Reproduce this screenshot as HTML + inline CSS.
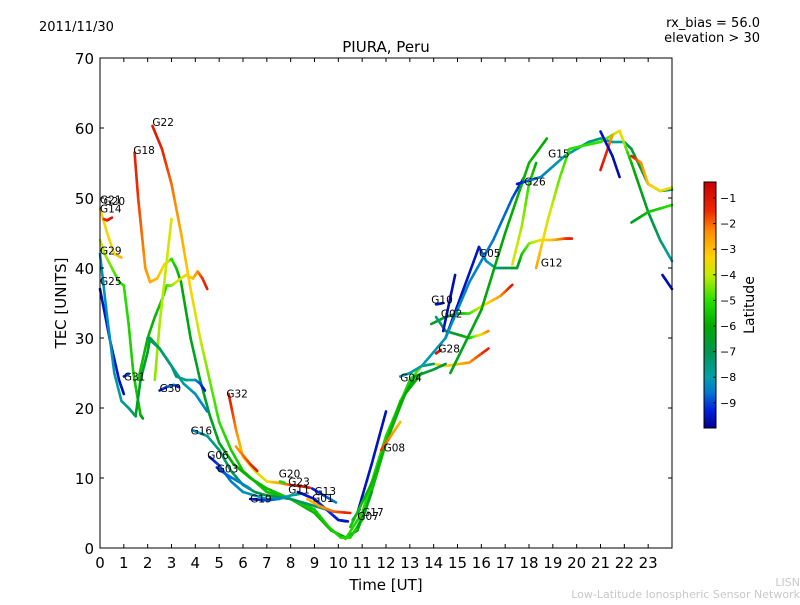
<!DOCTYPE html>
<html><head><meta charset="utf-8">
<style>
html,body{margin:0;padding:0;background:#fff;}
body{width:800px;height:600px;overflow:hidden;font-family:"Liberation Sans","DejaVu Sans",sans-serif;}
svg text{font-family:"DejaVu Sans","Liberation Sans",sans-serif;}
</style></head>
<body>
<svg id="chart" width="800" height="600" viewBox="0 0 800 600" xmlns="http://www.w3.org/2000/svg">
<text x="39" y="31" font-size="13">2011/11/30</text>
<text x="760" y="27" font-size="13" text-anchor="end">rx_bias = 56.0</text>
<text x="760" y="42" font-size="13" text-anchor="end">elevation &gt; 30</text>
<text x="386" y="52" font-size="15" text-anchor="middle">PIURA, Peru</text>
<g id="marks"></g>
<rect x="100" y="58" width="572" height="490" fill="none" stroke="#000" stroke-width="1"/>
<g id="axes"></g>
<text x="386" y="590" font-size="15" text-anchor="middle">Time [UT]</text>
<text x="66" y="303" font-size="15" text-anchor="middle" transform="rotate(-90 66 303)">TEC [UNITS]</text>
<g id="cbar"></g>
<text x="754" y="305" font-size="14" text-anchor="middle" transform="rotate(-90 754 305)">Latitude</text>
<text x="800" y="586" font-size="11" fill="#c8c8c8" text-anchor="end">LISN</text>
<text x="800" y="598" font-size="11" fill="#c8c8c8" text-anchor="end">Low-Latitude Ionospheric Sensor Network</text>
</svg>
<script>
const xTicks=[0,1,2,3,4,5,6,7,8,9,10,11,12,13,14,15,16,17,18,19,20,21,22,23];
const yTicks=[0,10,20,30,40,50,60,70];
const cbTicks=[-1,-2,-3,-4,-5,-6,-7,-8,-9];
const sNames=["G22","G18","S3","S4","G14","G21","G29","G25","SB1","SC1","G31","G30","ST1","G16","G06","G03","G19","G32","SR1","G20","G23","G11","G13","G01","G17","G07","SBm","SG1","SG2","G08","G04","G28","G02","SG3","G10","SB2","G05","G26","SY1","SG4","G15","G12","SD1","SR2","SG5","SBl","SR3","SB3"];
const sT=[
[2.2,2.6,3.0,3.4,3.8,4.2,4.6,5.0,5.5,6,7,8,9,9.7,10.3,10.8,11.3,12,12.8,13.5],
[1.45,1.6,1.75,1.9,2.1,2.4,2.7,2.9,3.0,3.2,3.4,3.8,4.2,4.6,5.0,5.6,6.3,7,8,9,9.6,10.1,10.5,11,11.8,12.6,13.2],
[1.6,2.0,2.3,2.6,2.8,3.0,3.2,3.6,3.9,4.1,4.3,4.5],
[2.3,2.5,2.8,3.0],
[0.0,0.3,0.6,0.9],
[0.15,0.3,0.5],
[0.0,0.2,0.5,0.8,1.0,1.2,1.4,1.6,1.7,1.8],
[0.0,0.4,0.8,1.0],
[0.0,0.3,0.6,0.9,1.2,1.5],
[1.0,1.2],
[1.5,1.7,2.0,2.1,2.5,3.0,3.2,3.6,4.0,4.2,4.4],
[2.5,2.8,3.1,3.3],
[2.0,2.5,3.0,3.5,4.0,4.5],
[3.9,4.5,5.0,5.5,6,6.5,7,8,9,9.5,10,10.3],
[4.6,5.0,5.5,6,7,7.5],
[4.9,5.3,5.8,6.3],
[6.3,7,7.5,8,8.5],
[5.4,5.7,6.0,6.5,7,7.5,8],
[5.7,6.3,6.6],
[7.55,7.75],
[8.0,8.5,8.8],
[8.3,9,9.5,10,10.4],
[8.7,9.2,9.8,10.5],
[8.9,9.4,9.9],
[10.8,11.1,11.4],
[10.6,10.9],
[10.8,11.4,12.0],
[10.3,11,12,13,13.5,14,14.5,15.5,16.3],
[10.5,11.5,12.5,13.2,14,14.5],
[11.8,12.2,12.6],
[12.6,13,13.5,14],
[14.1,14.3],
[13.9,14.5,15,15.5,16,16.8,17.3],
[14.1,14.5,15,15.5,16,16.3],
[14.1,14.4],
[14.4,14.9],
[14.5,15.9,16.2,16.6,16.9,17.2,17.5,17.7,18,18.5,19,19.5,19.8],
[13.5,14.5,15.5,16.5,17.3,17.8],
[17.3,17.7,18.0,18.3],
[14.7,16,17,18,18.75],
[17.5,18,18.5,19,19.5,20,20.5,21,21.5,22,22.3,23,23.5,24],
[18.3,18.8,19.3,19.7,20.3,21,21.5,21.8],
[21.8,22.3,23,23.5,24],
[22.3,22.7,23,23.5,24],
[22.3,23,24],
[23.6,24],
[21.0,21.3,21.5],
[21.0,21.5,21.8]
];
const sV=[
[60.3,57,52,45,37,30,24,18,14,11,8,7,5,2.5,1.5,2.5,7,15,22,25],
[56.5,50,45,40,38,38.5,40.5,41,41.3,40,38,30,24,19,15,12,10,8.5,7,5.5,3,1.5,1.5,4,13,21,24.5],
[24,30,33,35.5,37.5,37.5,38,39,38.5,39.5,38.5,37],
[24,32,41,47],
[48.5,45,42,41.5],
[47,46.8,47.2],
[44,42,40,38,37.5,32,25,21,19,18.5],
[37,30,24,22],
[42,33,25,21,20,18.8],
[24.5,24.8],
[19,24,28,30,28.5,26,24.5,24,24,23.5,22.5],
[22.5,23,23.3,23],
[30,28.5,26,23.5,22,19.5],
[16.8,16,14,11,9,8,7.5,7,6,5.5,4,3.8],
[13,11.8,9.5,8,7,7],
[11.5,10.5,9.5,8.5],
[7,6.8,7,7.5,7.8],
[22,17,13,11,9.5,9.3,9],
[14.5,12,11],
[9.5,9.3],
[9,8.8,8.6],
[8,7,5.5,4,3.8],
[7,6,5.2,5],
[8.5,7.5,6.5],
[3,5,8],
[4,5.5],
[5,12,19.5],
[1.3,5,16,24,26,26.3,26,26.5,28.5],
[3,10,20,24.5,25.5,26.3],
[14,16,18],
[24.5,25,26,26.3],
[27.8,28.3],
[32,33,33.5,33.5,34.5,36,37.6],
[33,31,30.5,30,30.5,31],
[34.8,35],
[31,39],
[30,43,41,40,40,40,40,42,43.5,44,44,44.2,44.2],
[26,30,38,44,50,53],
[40.5,46,52,55],
[25,34,45,55,58.5],
[52,52.5,53,54.5,56,57,58,58.5,58,58,57,52,51,51.2],
[40,47,53,57,57.5,58,59,59.6],
[59.6,55,48,44,41],
[56,55,52,51,51.5],
[46.5,48,49],
[39,37],
[54,57,59],
[59.5,56,53]
];
const sL=[
[-1,-1.3,-2,-2.7,-3.3,-4,-4.6,-5,-5.3,-5.5,-5.6,-5.7,-5.8,-5.9,-6,-6,-6,-6,-6,-6],
[-1.2,-1.6,-2,-2.4,-2.7,-3,-3.4,-3.8,-5,-5.5,-6,-6.3,-6.5,-6.5,-6.3,-6,-5.8,-5.7,-5.5,-5.5,-5.4,-5.3,-5.3,-5.5,-5.5,-5.5,-5.5],
[-5.5,-5.8,-5.8,-5.5,-5,-4.5,-4,-3.5,-3,-2.4,-1.6,-1.2],
[-4.4,-4.2,-4,-3.6],
[-3.2,-3.5,-3.4,-2.8],
[-1.8,-1.3,-1],
[-3.8,-4.2,-4.6,-5,-5,-5.2,-5.4,-5.6,-5.8,-6.3],
[-9.6,-9.4,-9.5,-9.7],
[-8.2,-8.3,-8.2,-7.8,-7.5,-7.2],
[-9.2,-9],
[-6.5,-6.6,-6.5,-6.3,-6.5,-6.8,-7.2,-7.6,-8.2,-8.8,-9.6],
[-9.5,-9,-8.6,-9.4],
[-7.3,-7.3,-7.5,-7.8,-8.2,-8.5],
[-8.5,-7.8,-7.4,-7.2,-7.1,-7,-7,-7.1,-7.3,-7.5,-7.4,-7],
[-9.6,-9,-8.5,-8.3,-8,-8],
[-9.3,-8.8,-8.5,-8.3],
[-9.6,-9,-8.5,-8,-7.6],
[-1,-2.2,-3.2,-3.8,-3.5,-2.7,-1.8],
[-2.6,-1.6,-1],
[-5.2,-5.2],
[-1.2,-1,-1.2],
[-9.6,-9.4,-9,-9.4,-9.6],
[-3,-2.5,-2,-1.2],
[-9.5,-9,-8.5],
[-6.3,-6.3,-6.3],
[-7.5,-7.5],
[-9.6,-9.5,-9.6],
[-5.2,-5.2,-5.2,-5.2,-4.5,-3.6,-3.3,-2.4,-1.2],
[-5.5,-5.8,-5.8,-6.3,-6.8,-6.9],
[-1.5,-2.3,-3],
[-8.2,-8,-7.8,-7.5],
[-1,-1],
[-6.5,-6.4,-6.3,-5,-3.8,-2.5,-1.1],
[-7.5,-7.1,-6.6,-5.5,-3.5,-2.2],
[-9.6,-9.6],
[-9.6,-9.7],
[-9.6,-9.5,-8.3,-7.7,-7.2,-6.7,-6.6,-5.5,-4.5,-3.7,-3,-1.8,-1.1],
[-8,-8.2,-8.4,-8.6,-8.8,-9.6],
[-3.8,-4.2,-5,-6],
[-6.3,-6.2,-6,-5.8,-6],
[-9.6,-8.8,-8.4,-8.2,-8,-7.8,-7.6,-7.5,-7.8,-7.8,-6.6,-6.4,-6.6,-7.6],
[-2.6,-3.8,-4.6,-5,-5,-5,-4.5,-3.4],
[-3.2,-5.8,-6.6,-7.2,-8],
[-1,-2.3,-3,-3.6,-3.4],
[-6.6,-5.6,-5],
[-9.7,-9.6],
[-1,-1.5,-2.6],
[-9.5,-9.6,-9.7]
];
const labelT=[2.2,1.4,0.0,0.15,0.0,0.0,0.0,1.0,2.5,5.3,3.8,4.5,4.9,6.3,7.5,7.9,7.9,9.0,8.9,11.0,10.8,11.9,12.6,14.2,13.9,14.3,15.9,17.8,18.8,18.5];
const labelV=[60.3,56.3,49.2,49.0,47.9,41.9,37.6,23.9,22.3,21.5,16.2,12.7,10.8,6.5,10.1,8.9,7.8,7.6,6.6,4.6,4.0,13.8,23.8,27.9,34.9,32.9,41.6,51.8,55.8,40.2];
const labelText=["G22","G18","G21","G20","G14","G29","G25","G31","G30","G32","G16","G06","G03","G19","G20","G23","G11","G13","G01","G17","G07","G08","G04","G28","G10","G02","G05","G26","G15","G12"];

const NS="http://www.w3.org/2000/svg";
const X0=100,X1=672,Y0=548,Y1=58;
function xs(t){return X0+(X1-X0)*t/24;}
function ys(v){return Y0-(Y0-Y1)*v/70;}
const stops=[[-10,[0,0,140]],[-9.3,[0,30,220]],[-8.6,[0,120,210]],[-8,[0,160,170]],[-7,[0,150,80]],[-6,[0,170,0]],[-5,[40,225,0]],[-4,[200,235,0]],[-3.3,[255,210,0]],[-2.3,[255,140,0]],[-1.5,[240,40,0]],[-0.4,[200,0,0]]];
function col(l){
  if(l<=stops[0][0]) return 'rgb('+stops[0][1]+')';
  for(let i=1;i<stops.length;i++){
    if(l<=stops[i][0]){const a=stops[i-1],b=stops[i];const f=(l-a[0])/(b[0]-a[0]);
      const c=a[1].map((v,k)=>Math.round(v+(b[1][k]-v)*f));return 'rgb('+c.join(',')+')';}
  }
  return 'rgb(200,0,0)';
}
const marks=document.getElementById('marks');
for(let s=0;s<sT.length;s++){
  const g=document.createElementNS(NS,'g');
  
  
  const t=sT[s],v=sV[s],l=sL[s];
  for(let i=0;i<t.length-1;i++){
    const n=6;
    for(let k=0;k<n;k++){
      const f0=k/n,f1=(k+1)/n;
      const ln=document.createElementNS(NS,'line');
      
      
      ln.setAttribute('x1',xs(t[i]+(t[i+1]-t[i])*f0));ln.setAttribute('y1',ys(v[i]+(v[i+1]-v[i])*f0));
      ln.setAttribute('x2',xs(t[i]+(t[i+1]-t[i])*f1));ln.setAttribute('y2',ys(v[i]+(v[i+1]-v[i])*f1));
      ln.setAttribute('stroke',col(l[i]+(l[i+1]-l[i])*(f0+f1)/2));
      ln.setAttribute('stroke-width','2.6');ln.setAttribute('stroke-linecap','round');
      const tt=document.createElementNS(NS,'title');tt.textContent=sNames[s];ln.appendChild(tt);
      g.appendChild(ln);
    }
  }
  marks.appendChild(g);
}
for(let i=0;i<labelText.length;i++){
  const tx=document.createElementNS(NS,'text');
  
  
  tx.setAttribute('x',xs(labelT[i]));tx.setAttribute('y',ys(labelV[i]));
  tx.setAttribute('font-size','10.5');tx.textContent=labelText[i];
  marks.appendChild(tx);
}
const axes=document.getElementById('axes');
xTicks.forEach(t=>{
  const x=xs(t);
  const a=document.createElementNS(NS,'line');
  
  
  a.setAttribute('x1',x);a.setAttribute('x2',x);a.setAttribute('y1',Y0);a.setAttribute('y2',Y0-4);a.setAttribute('stroke','#000');axes.appendChild(a);
  const b=document.createElementNS(NS,'line');
  
  
  b.setAttribute('x1',x);b.setAttribute('x2',x);b.setAttribute('y1',Y1);b.setAttribute('y2',Y1+4);b.setAttribute('stroke','#000');axes.appendChild(b);
  const tx=document.createElementNS(NS,'text');
  
  
  tx.setAttribute('x',x);tx.setAttribute('y',568);tx.setAttribute('font-size','15');tx.setAttribute('text-anchor','middle');tx.textContent=t;axes.appendChild(tx);
});
yTicks.forEach(v=>{
  const y=ys(v);
  const a=document.createElementNS(NS,'line');
  
  
  a.setAttribute('x1',X0);a.setAttribute('x2',X0+4);a.setAttribute('y1',y);a.setAttribute('y2',y);a.setAttribute('stroke','#000');axes.appendChild(a);
  const b=document.createElementNS(NS,'line');
  
  
  b.setAttribute('x1',X1);b.setAttribute('x2',X1-4);b.setAttribute('y1',y);b.setAttribute('y2',y);b.setAttribute('stroke','#000');axes.appendChild(b);
  const tx=document.createElementNS(NS,'text');
  
  
  tx.setAttribute('x',94);tx.setAttribute('y',y+6);tx.setAttribute('font-size','15');tx.setAttribute('text-anchor','end');tx.textContent=v;axes.appendChild(tx);
});
const cb=document.getElementById('cbar');
const CT=182,CB=428,CX=704,CW=12;
function cy(l){return 198+(-1-l)*25.6;}
for(let y=CT;y<CB;y++){
  const r=document.createElementNS(NS,'rect');
  
  
  const l=-1-(y+0.5-198)/25.6;
  r.setAttribute('x',CX);r.setAttribute('y',y);r.setAttribute('width',CW);r.setAttribute('height',1.2);r.setAttribute('fill',col(l));cb.appendChild(r);
}
const fr=document.createElementNS(NS,'rect');


fr.setAttribute('x',CX);fr.setAttribute('y',CT);fr.setAttribute('width',CW);fr.setAttribute('height',CB-CT);fr.setAttribute('fill','none');fr.setAttribute('stroke','#000');cb.appendChild(fr);
cbTicks.forEach(l=>{
  const y=cy(l);
  const a=document.createElementNS(NS,'line');
  
  
  a.setAttribute('x1',CX+CW-3);a.setAttribute('x2',CX+CW);a.setAttribute('y1',y);a.setAttribute('y2',y);a.setAttribute('stroke','#000');cb.appendChild(a);
  const tx=document.createElementNS(NS,'text');
  
  
  tx.setAttribute('x',CX+CW+4);tx.setAttribute('y',y+4);tx.setAttribute('font-size','11');tx.textContent='\u2212'+(-l);cb.appendChild(tx);
});
</script>
</body></html>
